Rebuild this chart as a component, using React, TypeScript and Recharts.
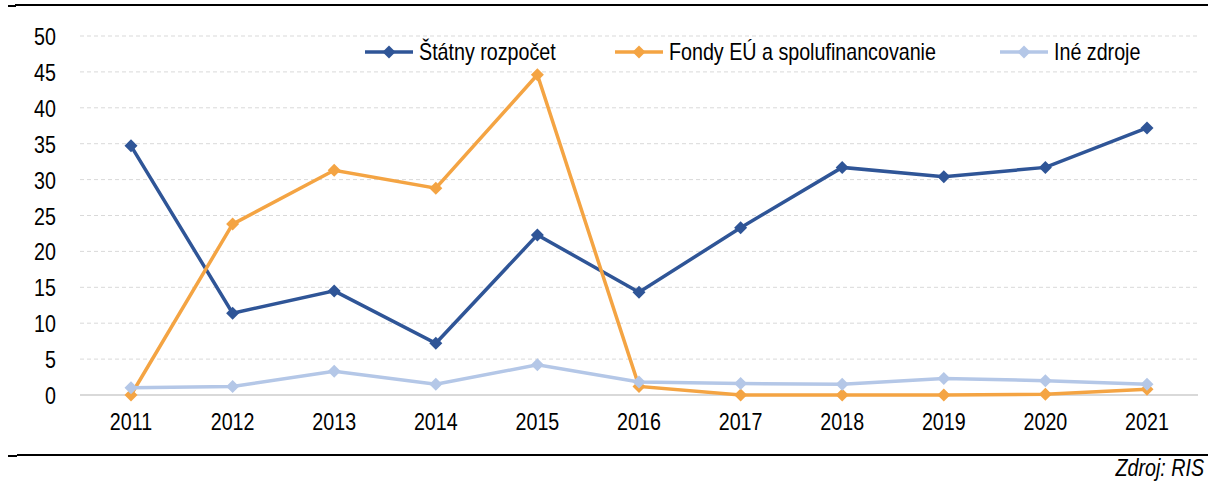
import React from 'react';
import { LineChart, Line, XAxis, YAxis, CartesianGrid, ReferenceLine } from 'recharts';

const years = ['2011', '2012', '2013', '2014', '2015', '2016', '2017', '2018', '2019', '2020', '2021'];
const statnyRozpocet = [34.7, 11.4, 14.5, 7.2, 22.3, 14.3, 23.3, 31.7, 30.4, 31.7, 37.2];
const fondyEU = [0, 23.8, 31.3, 28.8, 44.6, 1.2, 0, 0, 0, 0.1, 0.8];
const ineZdroje = [1.0, 1.2, 3.3, 1.5, 4.2, 1.8, 1.6, 1.5, 2.3, 2.0, 1.5];
const yTicks = [0, 5, 10, 15, 20, 25, 30, 35, 40, 45, 50];

const series = [
    { key: 'statny', name: 'Štátny rozpočet', color: '#2F5597', values: statnyRozpocet },
    { key: 'fondy', name: 'Fondy EÚ a spolufinancovanie', color: '#F4A443', values: fondyEU },
    { key: 'ine', name: 'Iné zdroje', color: '#B4C7E7', values: ineZdroje },
];

const data = years.map((year, i) => {
    const row: any = { year };
    series.forEach(s => { row[s.key] = s.values[i]; });
    return row;
});

// no narrow font installed, so squeeze Liberation Sans horizontally
const font = '"Liberation Sans", Arial, sans-serif';
const fontSize = 24;
const squeeze = 0.82;

function XTick(props: any) {
    const { x, y, payload } = props;
    return <text transform={`translate(${x},${y + 33}) scale(${squeeze},1)`} textAnchor="middle" fontSize={fontSize} fontFamily={font} fill="#000">{payload.value}</text>;
}

function YTick(props: any) {
    const { y, payload } = props;
    return <text transform={`translate(56,${y + 9}) scale(${squeeze},1)`} textAnchor="end" fontSize={fontSize} fontFamily={font} fill="#000">{payload.value}</text>;
}

function Diamond(props: any) {
    const { cx, cy, stroke } = props;
    if (cx == null || cy == null) return null;
    const r = 6.5;
    return <polygon points={`${cx},${cy - r} ${cx + r},${cy} ${cx},${cy + r} ${cx - r},${cy}`} fill={stroke} />;
}

function ChartLegend() {
    const pos = [365, 615, 1000];
    return <>
        {series.map((s, i) => <div key={s.key} style={{ position: 'absolute', left: pos[i], top: 38, display: 'flex', alignItems: 'center', fontFamily: font, fontSize, color: '#000', whiteSpace: 'nowrap' }}>
            <svg width={48} height={14} style={{ marginRight: 6 }}>
                <line x1={0} y1={7} x2={48} y2={7} stroke={s.color} strokeWidth={3.5} />
                <polygon points="24,0.5 30.5,7 24,13.5 17.5,7" fill={s.color} />
            </svg>
            <span style={{ display: 'inline-block', transform: `scaleX(${squeeze})`, transformOrigin: 'left center' }}>{s.name}</span>
        </div>)}
    </>;
}

export default function App() {
    return <div style={{ position: 'absolute', left: 0, top: 0, width: 1208, height: 482, background: '#fff', fontFamily: font }}>
        <div style={{ position: 'absolute', left: 8, top: 5, width: 8, height: 2, background: '#000' }} />
        <div style={{ position: 'absolute', left: 15, top: 4, width: 1193, height: 2, background: '#000' }} />
        <div style={{ position: 'absolute', left: 8, top: 455, width: 9, height: 2, background: '#000' }} />
        <div style={{ position: 'absolute', left: 17, top: 454, width: 1191, height: 2, background: '#000' }} />
        <div style={{ position: 'absolute', right: 4, top: 456, lineHeight: 1, fontStyle: 'italic', fontSize, color: '#000', transform: `scaleX(${squeeze})`, transformOrigin: 'right center', whiteSpace: 'nowrap' }}>Zdroj: RIS</div>
        <LineChart width={1208} height={482} data={data} margin={{ top: 36, right: 10, left: 0, bottom: 57 }}>
            <CartesianGrid vertical={false} stroke="#D9D9D9" strokeDasharray="4 3" />
            <XAxis dataKey="year" axisLine={false} tickLine={false} tickSize={0} height={30} padding={{ left: 51, right: 51 }}
                tick={<XTick />} interval={0} />
            <YAxis domain={[0, 50]} ticks={yTicks} axisLine={false} tickLine={false} tickSize={0} width={80}
                tick={<YTick />} interval={0} />
            <ReferenceLine y={0} stroke="#D9D9D9" strokeWidth={2} />
            {series.map(s => <Line key={s.key} dataKey={s.key} name={s.name} stroke={s.color} strokeWidth={3.5}
                dot={<Diamond />} activeDot={false} isAnimationActive={false} />)}
        </LineChart>
        <ChartLegend />
    </div>;
}
